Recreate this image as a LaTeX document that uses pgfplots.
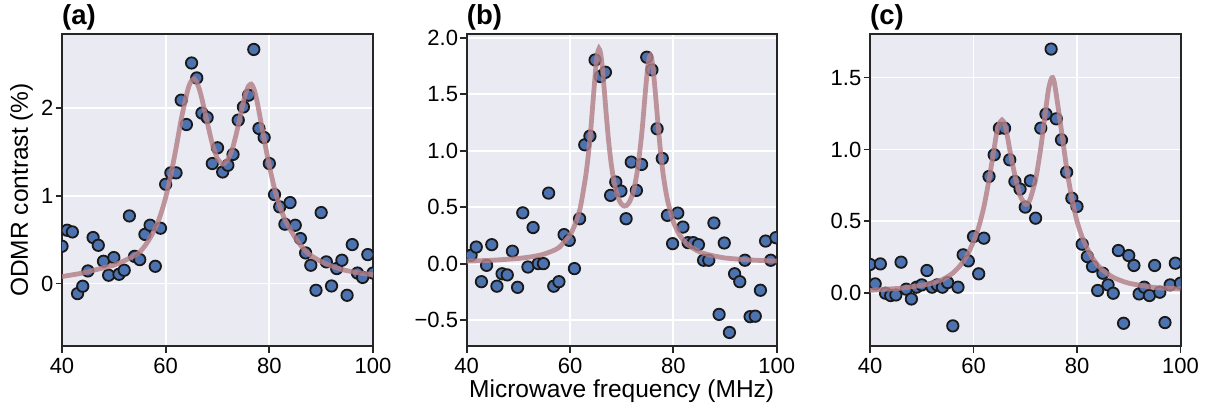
\documentclass[border=0pt]{standalone}
\usepackage{fontspec}
\setmainfont{Liberation Sans}
\usepackage{pgfplots}
\pgfplotsset{compat=1.18}
\definecolor{bgc}{RGB}{234,234,242}
\definecolor{spine}{RGB}{38,38,38}
\definecolor{mblue}{RGB}{76,114,176}
\definecolor{medge}{RGB}{25,25,25}
\definecolor{fitc}{RGB}{180,128,137}
\pgfplotsset{
  panel/.style={
    scale only axis, width=310pt, height=312pt,
    xmin=40, xmax=100, xtick={40,60,80,100}, xticklabels={40,60,80,100},
    axis background/.style={fill=bgc},
    grid=major, major grid style={white, line width=1.8pt},
    axis line style={spine, line width=2pt},
    tick align=outside, tick pos=left,
    major tick length=6.5pt,
    tick style={spine, line width=1.8pt},
    tick label style={font=\fontsize{22}{26}\selectfont, inner sep=0pt},
    xticklabel style={yshift=-5pt},
    yticklabel style={xshift=-2pt},
    clip marker paths=true,
    every axis title/.style={at={(axis description cs:0,1)}, anchor=base west, yshift=9.5pt, inner sep=0pt,
      font=\bfseries\fontsize{27.5}{31}\selectfont},
  },
  pts/.style={only marks, mark=*, mark size=5.7pt,
    mark options={fill=mblue, draw=medge, line width=1.8pt}},
  fit/.style={no marks, smooth, tension=0.4, fitc, opacity=0.82, line width=4.8pt},
}
\begin{document}
\begin{tikzpicture}
\useasboundingbox (0,0) rectangle (1215pt,415pt);
% ---------------- (a)
\begin{axis}[panel, at={(62pt,69pt)}, anchor=south west, width=311pt,
  ymin=-0.71, ymax=2.84, ytick={0,1,2}, yticklabels={0,1,2},
  title={(a)}, ylabel={ODMR contrast (\%)},
  every axis y label/.style={at={(axis description cs:-0.1302,0.5)}, rotate=90, anchor=center,
    font=\fontsize{24.5}{28}\selectfont}]
\addplot[pts] table {
40 0.425
41 0.607
42 0.588
43 -0.114
44 -0.03
45 0.144
46 0.524
47 0.436
48 0.254
49 0.095
50 0.296
51 0.106
52 0.152
53 0.77
54 0.31
55 0.273
56 0.56
57 0.664
58 0.197
59 0.63
60 1.13
61 1.26
62 1.26
63 2.087
64 1.81
65 2.51
66 2.34
67 1.94
68 1.89
69 1.366
70 1.545
71 1.27
72 1.347
73 1.47
74 1.86
75 2.01
76 2.144
77 2.664
78 1.765
79 1.662
80 1.366
81 1.013
82 0.873
83 0.676
84 0.922
85 0.664
86 0.512
87 0.349
88 0.209
89 -0.076
90 0.808
91 0.247
92 -0.027
93 0.171
94 0.266
95 -0.133
96 0.444
97 0.12
98 0.07
99 0.33
100 0.12
};
\addplot[fit] table {
40 0.08
42 0.10
44 0.12
46 0.15
48 0.18
50 0.21
52 0.26
54 0.32
55 0.36
56 0.43
57 0.52
58 0.63
59 0.78
60 0.98
61 1.24
62 1.54
63 1.87
64 2.14
64.5 2.25
65 2.31
65.5 2.33
66 2.29
66.5 2.21
67 2.10
68 1.84
69 1.59
70 1.42
71 1.36
72 1.41
73 1.56
74 1.80
75 2.07
75.5 2.18
76 2.25
76.5 2.27
77 2.22
77.5 2.11
78 1.96
79 1.64
80 1.34
81 1.08
82 0.88
83 0.73
84 0.62
85 0.52
86 0.44
87 0.37
88 0.32
90 0.25
92 0.20
94 0.16
96 0.135
98 0.115
100 0.10
};
\end{axis}
% ---------------- (b)
\begin{axis}[panel, at={(466.7pt,69pt)}, anchor=south west,
  ymin=-0.73, ymax=2.035, ytick={-0.5,0,0.5,1,1.5,2},
  yticklabels={−0.5,0.0,0.5,1.0,1.5,2.0},
  title={(b)}, xlabel={Microwave frequency (MHz)},
  every axis x label/.style={at={(axis description cs:0.5,-0.164)}, anchor=base,
    font=\fontsize{24.5}{28}\selectfont}]
\addplot[pts] table {
39.85 -0.16
40.85 0.074
41.85 0.147
42.85 -0.16
43.85 -0.015
44.85 0.168
45.85 -0.2
46.85 -0.09
47.85 -0.1
48.85 0.11
49.85 -0.21
50.85 0.45
51.85 -0.03
52.85 0.32
53.85 0.0
54.85 0.0
55.85 0.625
56.85 -0.2
57.85 -0.16
58.85 0.257
59.85 0.206
60.85 -0.044
61.85 0.398
62.85 1.053
63.85 1.13
64.85 1.805
65.85 1.658
66.85 1.696
67.85 0.605
68.85 0.723
69.85 0.643
70.85 0.398
71.85 0.9
72.85 0.649
73.85 0.879
74.85 1.829
75.85 1.717
76.85 1.195
77.85 0.932
78.85 0.428
79.85 0.177
80.85 0.448
81.85 0.324
82.85 0.186
83.85 0.186
84.85 0.168
85.85 0.03
86.85 0.03
87.85 0.36
88.85 -0.45
89.85 0.183
90.85 -0.61
91.85 -0.09
92.85 -0.16
93.85 0.03
94.85 -0.47
95.85 -0.466
96.85 -0.236
97.85 0.2
98.85 0.03
99.85 0.23
100.85 0.66
};
\addplot[fit] table {
40 0.022
45 0.030
50 0.046
53 0.064
55 0.085
57 0.12
58 0.148
59 0.20
60 0.255
61 0.35
62 0.50
63 0.765
63.5 0.95
64 1.18
64.5 1.467
65 1.746
65.3 1.861
65.6 1.905
65.9 1.869
66.2 1.762
66.6 1.555
67 1.326
67.5 1.071
68 0.873
68.5 0.729
69 0.629
69.5 0.563
70 0.525
70.5 0.510
71 0.517
71.5 0.547
72 0.602
72.5 0.688
73 0.815
73.5 0.993
74 1.208
74.5 1.481
75 1.730
75.3 1.822
75.55 1.846
75.8 1.816
76.1 1.715
76.5 1.52
77 1.25
77.5 1.00
78 0.80
78.5 0.65
79 0.535
80 0.37
81 0.27
82 0.205
83 0.16
85 0.105
87 0.077
90 0.05
95 0.032
100 0.023
};
\end{axis}
% ---------------- (c)
\begin{axis}[panel, at={(870pt,69pt)}, anchor=south west, width=310.5pt,
  ymin=-0.367, ymax=1.803, ytick={0,0.5,1,1.5},
  yticklabels={0.0,0.5,1.0,1.5},
  title={(c)}]
\addplot[pts] table {
40 0.2
41 0.065
42 0.204
43 0.0
44 -0.016
45 -0.012
46 0.216
47 0.028
48 -0.04
49 0.042
50 0.058
51 0.158
52 0.042
53 0.058
54 0.042
55 0.074
56 -0.227
57 0.042
58 0.267
59 0.225
60 0.394
61 0.135
62 0.383
63 0.812
64 0.963
65 1.148
66 1.148
67 0.928
68 0.777
69 0.724
70 0.599
71 0.782
72 0.522
73 1.148
74 1.246
75 1.698
76 1.213
77 1.067
78 0.842
79 0.661
80 0.603
81 0.341
82 0.255
83 0.186
84 0.019
85 0.139
86 0.058
87 0.0
88 0.297
89 -0.209
90 0.262
91 0.193
92 -0.005
93 0.042
94 -0.016
95 0.193
96 0.007
97 -0.204
98 0.058
99 0.209
100 0.07
101 -0.16
};
\addplot[fit] table {
40 0.02
42 0.025
44 0.03
46 0.035
48 0.045
50 0.055
52 0.07
54 0.095
55 0.115
56 0.14
57 0.175
58 0.22
59 0.28
60 0.36
61 0.46
62 0.60
63 0.79
64 1.01
64.5 1.12
65 1.18
65.5 1.205
66 1.18
66.5 1.10
67 1.00
68 0.82
69 0.68
70 0.62
70.5 0.625
71 0.66
72 0.79
73 1.01
74 1.29
74.5 1.42
75 1.49
75.3 1.50
75.6 1.47
76 1.38
77 1.13
78 0.87
79 0.66
80 0.50
81 0.39
82 0.31
83 0.245
84 0.195
85 0.16
87 0.11
90 0.07
95 0.04
100 0.03
};
\end{axis}
\end{tikzpicture}
\end{document}
